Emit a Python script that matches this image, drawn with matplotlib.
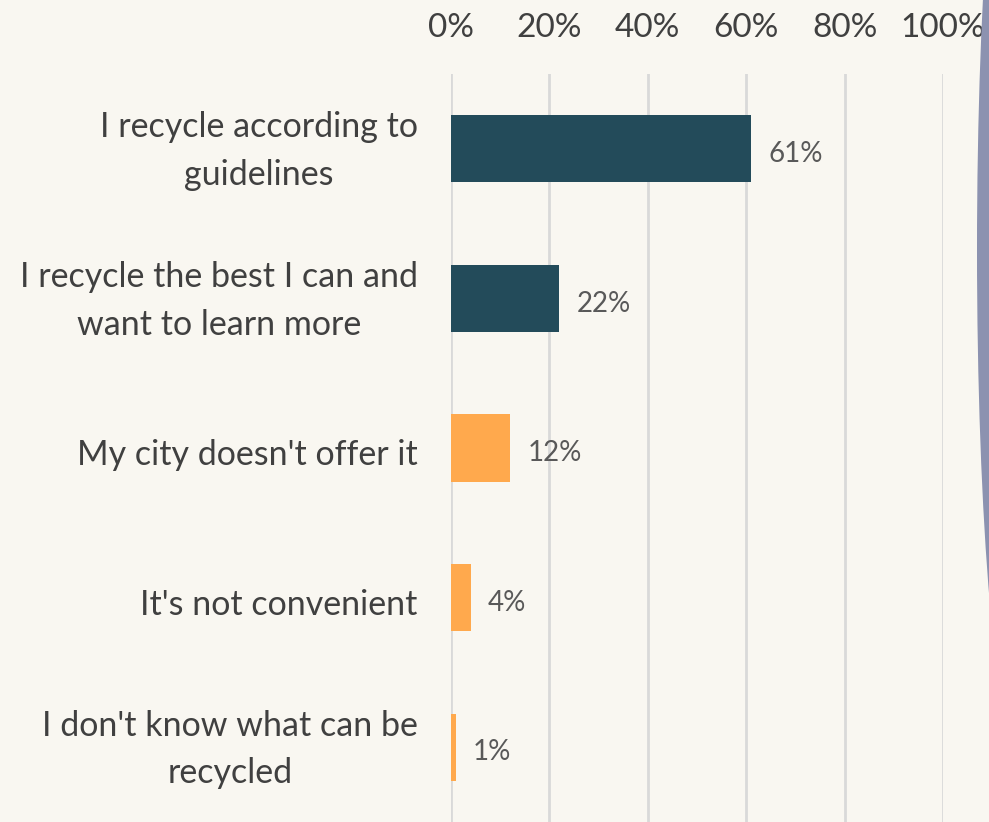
import matplotlib
matplotlib.use("Agg")
import matplotlib.pyplot as plt
import matplotlib.transforms as mtransforms
from matplotlib.patches import Ellipse
from matplotlib.ticker import FuncFormatter

categories = ["I recycle according to\nguidelines",
              "I recycle the best I can and\nwant to learn more",
              "My city doesn't offer it",
              "It's not convenient",
              "I don't know what can be\nrecycled"]
values = [61, 22, 12, 4, 1]
bar_colors = ["#234b5a", "#234b5a", "#ffa94d", "#ffa94d", "#ffa94d"]
xticks = [0, 20, 40, 60, 80, 100]

bg = "#f9f7f1"
plt.rcParams['font.family'] = ['Lato', 'DejaVu Sans']

fig = plt.figure(figsize=(9.89, 8.22), dpi=100, facecolor=bg)
ax = fig.add_axes([451/989, 0, (943-451)/989, 1 - 74/822])
ax.set_facecolor(bg)

y = list(range(len(categories)))
ax.barh(y, values, height=0.45, color=bar_colors, zorder=3)
for yi, v in zip(y, values):
    ax.text(v + 3.5, yi + 0.035, f"{v}%", va="center", ha="left", fontsize=20, color="#595959", zorder=4)

ax.set_xlim(0, 100)
ax.set_ylim(4.5, -0.5)
ax.set_xticks(xticks)
ax.xaxis.set_major_formatter(FuncFormatter(lambda v, p: f"{int(v)}%"))
ax.xaxis.tick_top()
ax.tick_params(axis="x", length=0, pad=22, labelsize=24, labelcolor="#404040")
ax.set_yticks(y)
ax.set_yticklabels(categories, fontsize=24.5, color="#404040", linespacing=1.6)
ax.tick_params(axis="y", length=0, pad=24)
for lbl, cat in zip(ax.get_yticklabels(), categories):
    lbl.set_horizontalalignment("right")
    lbl.set_multialignment("center")
    dy = 6/72 if "\n" in cat else -3/72
    lbl.set_transform(lbl.get_transform() + mtransforms.ScaledTranslation(0, dy, fig.dpi_scale_trans))
ax.grid(axis="x", color="#d9d9d9", linewidth=2, zorder=0)
for s in ax.spines.values():
    s.set_visible(False)

# decorative shape at right edge
ell = Ellipse((1021/989, 1 - 250/822), width=88/989, height=1000/822,
              transform=fig.transFigure, facecolor="#8c92b0", edgecolor="none", zorder=5)
fig.patches.append(ell)

fig.savefig("out.png", dpi=100, facecolor=bg)
